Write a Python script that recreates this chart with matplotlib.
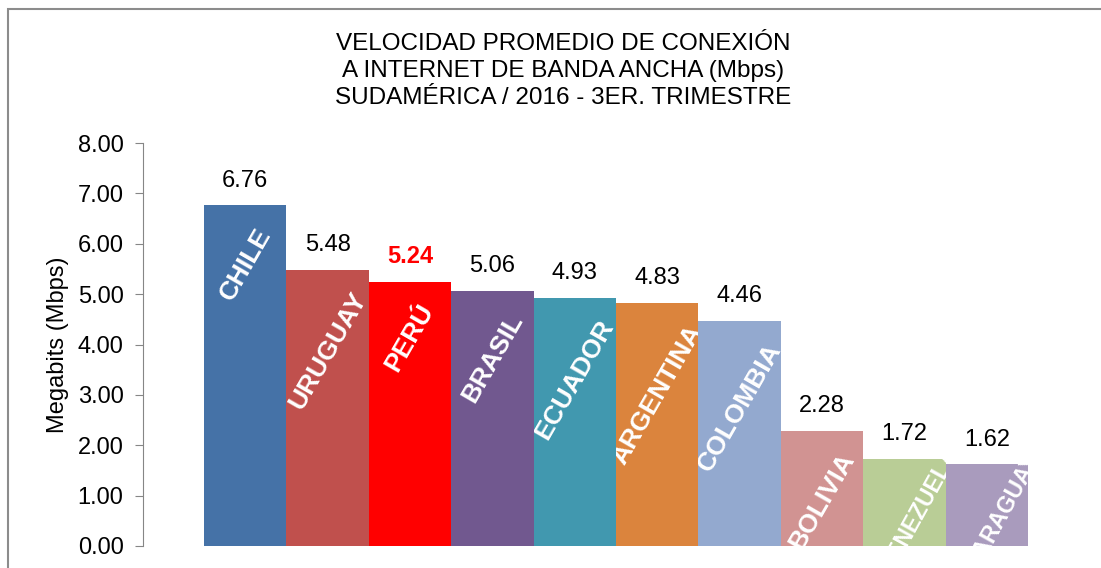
import matplotlib.pyplot as plt
from matplotlib.patches import Rectangle
from matplotlib.transforms import TransformedBbox

paises = ['CHILE', 'URUGUAY', 'PERÚ', 'BRASIL', 'ECUADOR', 'ARGENTINA',
          'COLOMBIA', 'BOLIVIA', 'VENEZUELA', 'PARAGUAY']
velocidad = [6.76, 5.48, 5.24, 5.06, 4.93, 4.83, 4.46, 2.28, 1.72, 1.62]
colores = ['#4572A7', '#C0504D', '#FF0000', '#71588F', '#4198AF', '#DB843D',
           '#93A9CF', '#D19392', '#B9CD96', '#A99BBD']

plt.rcParams['font.family'] = ['Liberation Sans', 'DejaVu Sans']

W, H = 1101, 568
fig = plt.figure(figsize=(W / 100, H / 100), dpi=100)

# marco gris del grafico
fig.patches.append(Rectangle((8 / W, -0.1), 1.2, 1 - 9 / H + 0.1, transform=fig.transFigure,
                             fill=False, edgecolor='#8C8C8C', linewidth=1.5, zorder=0))

ax = fig.add_axes([143 / W, 1 - 546 / H, 1 - 143 / W, (546 - 143) / H])
x = list(range(len(paises)))
barras = ax.bar(x, velocidad, width=1.0, color=colores)

ax.set_xlim(-0.5 - 61 / 82.4, 9.5 + (W - 1028) / 82.4)
ax.set_ylim(0, 8)
ax.set_yticks([0, 1, 2, 3, 4, 5, 6, 7, 8])
ax.set_yticklabels([f'{v:.2f}' for v in range(9)])
ax.set_xticks([])
for s in ['top', 'right', 'bottom']:
    ax.spines[s].set_visible(False)
ax.spines['left'].set_color('#868686')
ax.tick_params(axis='y', direction='out', length=6, color='#868686', labelsize=17, pad=8)
ax.set_ylabel('Megabits (Mbps)', fontsize=17, labelpad=6)

for i, v in enumerate(velocidad):
    es_peru = paises[i] == 'PERÚ'
    ax.annotate(f'{v:.2f}', (i, v), xytext=(0, 10), textcoords='offset points',
                ha='center', va='bottom', fontsize=17,
                color='#FF0000' if es_peru else 'black',
                fontweight='bold' if es_peru else 'normal')
    # en barras bajas el nombre no cabe: letra menor y pegado al tope
    if v > 2:
        t = ax.text(i, v - 0.36, paises[i], rotation=60, ha='center', va='top',
                    color='white', fontsize=19, fontweight='bold')
    else:
        t = ax.text(i + 0.2, v + 0.3, paises[i], rotation=61, ha='center', va='top',
                    color='white', fontsize=16.5, fontweight='bold')
    # el nombre queda recortado dentro de su barra
    t.set_clip_box(TransformedBbox(barras[i].get_bbox(), ax.transData))
    t.set_clip_on(True)

fig.text(563 / W, 1 - 71 / H,
         'VELOCIDAD PROMEDIO DE CONEXIÓN\nA INTERNET DE BANDA ANCHA (Mbps)\nSUDAMÉRICA / 2016 - 3ER. TRIMESTRE',
         ha='center', va='center', fontsize=17.5, linespacing=1.32)

fig.savefig('out.png', dpi=100)
